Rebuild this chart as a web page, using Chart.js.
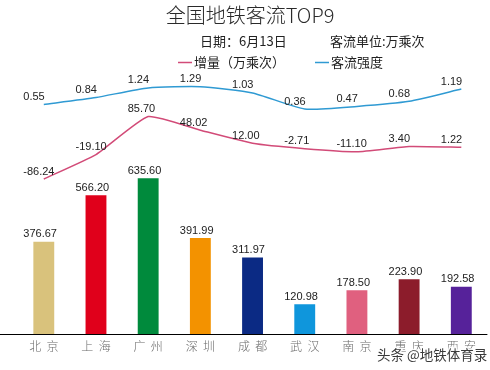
<!DOCTYPE html>
<html><head><meta charset="utf-8">
<script src="https://cdn.jsdelivr.net/npm/chart.js@4/dist/chart.umd.min.js"></script>
<style>html,body{margin:0;padding:0;background:#fff;}#wrap{width:490px;height:370px;}</style>
</head><body><div id="wrap"><canvas id="c" width="490" height="370"></canvas></div>
<script>
const chartTitle = '全国地铁客流TOP9';
const dateText = '日期：6月13日';
const unitText = '客流单位:万乘次';
const watermark = '头条 @地铁体育录';
const cities = ['北京','上海','广州','深圳','成都','武汉','南京','重庆','西安'];
const passengerFlow = [376.67, 566.20, 635.60, 391.99, 311.97, 120.98, 178.50, 223.90, 192.58];
const increment = [-86.24, -19.10, 85.70, 48.02, 12.00, -2.71, -11.10, 3.40, 1.22];
const intensity = [0.55, 0.84, 1.24, 1.29, 1.03, 0.36, 0.47, 0.68, 1.19];
const seriesNames = ['客流量', '增量（万乘次）', '客流强度'];
const barColors = ['#d9c27c','#e0001b','#008a3c','#f39200','#0b2a84','#0f96dc','#e0607f','#8c1c2b','#56229a'];
const redColor = '#d24b78';
const blueColor = '#2f9ad3';
const CJK = '"Noto Sans CJK SC", "Noto Sans", sans-serif';
const NUM = '"Liberation Sans", Arial, sans-serif';

const headerPlugin = {
  id: 'header',
  afterDraw(chart) {
    const ctx = chart.ctx;
    ctx.save();
    ctx.fillStyle = '#2a2a2a';
    ctx.textBaseline = 'middle';
    ctx.textAlign = 'center';
    ctx.font = '300 20px ' + CJK;
    ctx.fillText(chartTitle, 250, 15);
    ctx.textAlign = 'left';
    ctx.fillStyle = '#222';
    ctx.font = '13px ' + CJK;
    ctx.fillText(dateText, 200, 41.5);
    ctx.fillText(unitText, 330, 41.5);
    // legend
    const legends = [[redColor, seriesNames[1], 178], [blueColor, seriesNames[2], 315]];
    legends.forEach(([col, name, x]) => {
      ctx.strokeStyle = col; ctx.lineWidth = 1.5;
      ctx.beginPath(); ctx.moveTo(x, 62.5); ctx.lineTo(x + 14, 62.5); ctx.stroke();
      ctx.fillStyle = '#222';
      ctx.fillText(name, x + 16, 62.5);
    });
    // axis line extension
    const xs = chart.scales.x;
    ctx.strokeStyle = '#000'; ctx.lineWidth = 1;
    ctx.beginPath(); ctx.moveTo(0, Math.round(xs.top) + 0.5); ctx.lineTo(xs.right, Math.round(xs.top) + 0.5); ctx.stroke();
    // watermark
    ctx.font = '13.5px ' + CJK;
    ctx.lineWidth = 3; ctx.strokeStyle = 'rgba(255,255,255,0.9)';
    ctx.strokeText(watermark, 377, 355);
    ctx.fillStyle = '#3a3a3a';
    ctx.fillText(watermark, 377, 355);
    ctx.restore();
  }
};

const labelPlugin = {
  id: 'valueLabels',
  afterDatasetsDraw(chart) {
    const ctx = chart.ctx;
    ctx.save();
    ctx.font = '11px ' + NUM;
    ctx.fillStyle = '#222';
    ctx.textAlign = 'left';
    ctx.textBaseline = 'middle';
    chart.data.datasets.forEach((ds, di) => {
      const meta = chart.getDatasetMeta(di);
      meta.data.forEach((el, i) => {
        ctx.fillText(ds.data[i].toFixed(2), el.x - 20.5, el.y - 7.5);
      });
    });
    ctx.restore();
  }
};

new Chart(document.getElementById('c'), {
  data: {
    labels: cities,
    datasets: [
      { type: 'line', label: seriesNames[2], data: intensity, yAxisID: 'y3', borderColor: blueColor, borderWidth: 1.5, pointRadius: 0, tension: 0.18, fill: false, order: 1 },
      { type: 'line', label: seriesNames[1], data: increment, yAxisID: 'y2', borderColor: redColor, borderWidth: 1.5, pointRadius: 0, tension: 0.15, fill: false, order: 2 },
      { type: 'bar', label: seriesNames[0], data: passengerFlow, yAxisID: 'y', backgroundColor: barColors, barPercentage: 0.8, categoryPercentage: 0.5, order: 3 }
    ]
  },
  options: {
    responsive: false,
    animation: false,
    devicePixelRatio: 1,
    layout: { padding: { top: 70, left: 17.7, right: 2.6, bottom: 0 } },
    plugins: { legend: { display: false }, title: { display: false }, tooltip: { enabled: false } },
    scales: {
      x: {
        grid: { display: false, drawTicks: false, tickLength: 0 },
        border: { display: false },
        ticks: { color: '#6a6a6a', font: { family: CJK, size: 12, weight: '300' }, padding: 5, maxRotation: 0, autoSkip: false,
          callback: function(v, i) { return cities[i].split('').join('  '); } },
        afterFit: s => { s.height = 36; }
      },
      y: { display: false, min: 0, max: 1078 },
      y2: { display: false, min: -512.9, max: 213.8 },
      y3: { display: false, min: -9.015, max: 1.986 }
    }
  },
  plugins: [labelPlugin, headerPlugin]
});
</script></body></html>
